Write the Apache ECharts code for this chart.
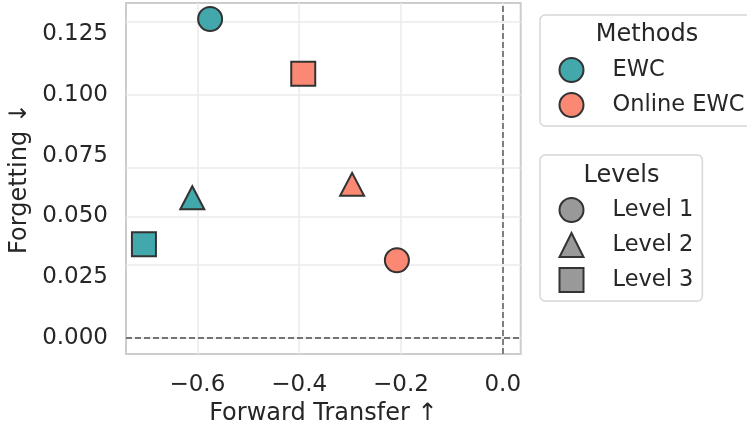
<!DOCTYPE html>
<html>
<head>
<meta charset="utf-8">
<script src="https://cdn.jsdelivr.net/npm/echarts@6/dist/echarts.min.js"></script>
<style>
  html, body { margin: 0; padding: 0; background: #fff; }
  #chart { width: 747px; height: 427px; }
</style>
</head>
<body>
<div id="chart"></div>
<script>
// data
const methods = ['EWC', 'Online EWC'];
const levels = ['Level 1', 'Level 2', 'Level 3'];
const ewcTransfer = [-0.575, -0.610, -0.705];
const ewcForgetting = [0.1312, 0.0577, 0.0386];
const onlineTransfer = [-0.208, -0.296, -0.392];
const onlineForgetting = [0.0320, 0.0632, 0.1087];
const xTicks = [-0.6, -0.4, -0.2, 0.0];
const yTicks = [0, 0.025, 0.05, 0.075, 0.1, 0.125];

const FONT = '"DejaVu Sans", sans-serif';
const TEXT = '#262626';
const colors = ['#42a8ab', '#fb8873'];
const levelSymbols = ['circle', 'triangle', 'rect'];
const levelSizes = [[24, 24], [24, 23], [24, 24]];

// axis range like matplotlib autoscale (5% margins, reference lines at 0 included)
function range(vals) {
  let lo = Math.min(0, ...vals), hi = Math.max(0, ...vals);
  let pad = (hi - lo) * 0.05;
  return [lo - pad, hi + pad];
}
const xr = range(ewcTransfer.concat(onlineTransfer));
const yr = range(ewcForgetting.concat(onlineForgetting));

function points(xs, ys) {
  return xs.map((x, i) => ({
    value: [x, ys[i]],
    symbol: levelSymbols[i],
    symbolSize: levelSizes[i]
  }));
}

let chart = echarts.init(document.getElementById('chart'));

let methodSeries = methods.map((m, i) => ({
  name: m,
  type: 'scatter',
  z: 3,
  data: i == 0 ? points(ewcTransfer, ewcForgetting) : points(onlineTransfer, onlineForgetting),
  itemStyle: { color: colors[i], borderColor: '#333', borderWidth: 2, opacity: 1 }
}));

// empty series, only for the Levels legend
let levelSeries = levels.map((l, i) => ({
  name: l,
  type: 'scatter',
  data: [],
  symbol: levelSymbols[i],
  itemStyle: { color: '#999999', borderColor: '#333', borderWidth: 2, opacity: 1 }
}));

let legendBase = {
  orient: 'vertical',
  itemWidth: 24,
  itemHeight: 24,
  itemGap: 9,
  selectedMode: false,
  borderColor: '#d6d6d6',
  borderWidth: 1.5,
  borderRadius: 5,
  itemStyle: { borderColor: '#333', borderWidth: 2, opacity: 1 },
  textStyle: { fontFamily: FONT, fontSize: 22.5, color: TEXT, padding: [0, 0, 0, 24] }
};

chart.setOption({
  animation: false,
  textStyle: { fontFamily: FONT },
  grid: {
    left: 126, top: 3, width: 394.7, height: 351,
    outerBoundsMode: 'none',
    containLabel: false,
    show: true, borderColor: '#cccccc', borderWidth: 2, backgroundColor: '#fff'
  },
  xAxis: {
    type: 'value',
    min: xr[0], max: xr[1],
    name: 'Forward Transfer ↑',
    nameLocation: 'middle',
    nameGap: 48,
    nameTextStyle: { fontFamily: FONT, fontSize: 24, color: TEXT },
    axisLine: { show: false },
    axisTick: { show: false },
    splitLine: { show: false },
    axisLabel: {
      customValues: xTicks,
      margin: 20,
      fontFamily: FONT, fontSize: 23, color: TEXT,
      formatter: v => v.toFixed(1).replace('-', '\u2212')
    }
  },
  yAxis: {
    type: 'value',
    min: yr[0], max: yr[1],
    name: 'Forgetting ↓',
    nameLocation: 'middle',
    nameGap: 94,
    nameMoveOverlap: false,
    nameTextStyle: { fontFamily: FONT, fontSize: 24, color: TEXT },
    axisLine: { show: false },
    axisTick: { show: false },
    splitLine: { show: false },
    axisLabel: {
      customValues: yTicks,
      margin: 18,
      fontFamily: FONT, fontSize: 23, color: TEXT,
      formatter: v => v.toFixed(3)
    }
  },
  legend: [
    Object.assign({}, legendBase, {
      left: 540, top: 15,
      padding: [42, 12, 8, 18.5],
      data: methods.map(m => ({ name: m, icon: 'circle' }))
    }),
    Object.assign({}, legendBase, {
      left: 540, top: 155,
      padding: [42, 9, 8, 18.5],
      data: levels.map((l, i) => ({ name: l, icon: levelSymbols[i] }))
    })
  ],
  graphic: [
    { type: 'text', x: 647, y: 34.5, style: { text: 'Methods', font: '24px ' + FONT, fill: TEXT, align: 'center', verticalAlign: 'middle' } },
    { type: 'text', x: 621.5, y: 175.5, style: { text: 'Levels', font: '24px ' + FONT, fill: TEXT, align: 'center', verticalAlign: 'middle' } }
  ],
  series: [
    {
      // grid lines
      type: 'scatter',
      data: [],
      silent: true,
      markLine: {
        z: 1,
        silent: true,
        symbol: 'none',
        label: { show: false },
        lineStyle: { color: '#ebebeb', width: 1.5, type: 'solid' },
        data: xTicks.map(v => ({ xAxis: v })).concat(yTicks.map(v => ({ yAxis: v })))
      }
    },
    {
      // reference lines at zero
      type: 'scatter',
      data: [],
      silent: true,
      markLine: {
        z: 2,
        silent: true,
        symbol: 'none',
        label: { show: false },
        lineStyle: { color: '#737373', width: 1.8, type: [6, 3] },
        data: [{ xAxis: 0 }, { yAxis: 0 }]
      }
    }
  ].concat(methodSeries, levelSeries)
});
</script>
</body>
</html>
